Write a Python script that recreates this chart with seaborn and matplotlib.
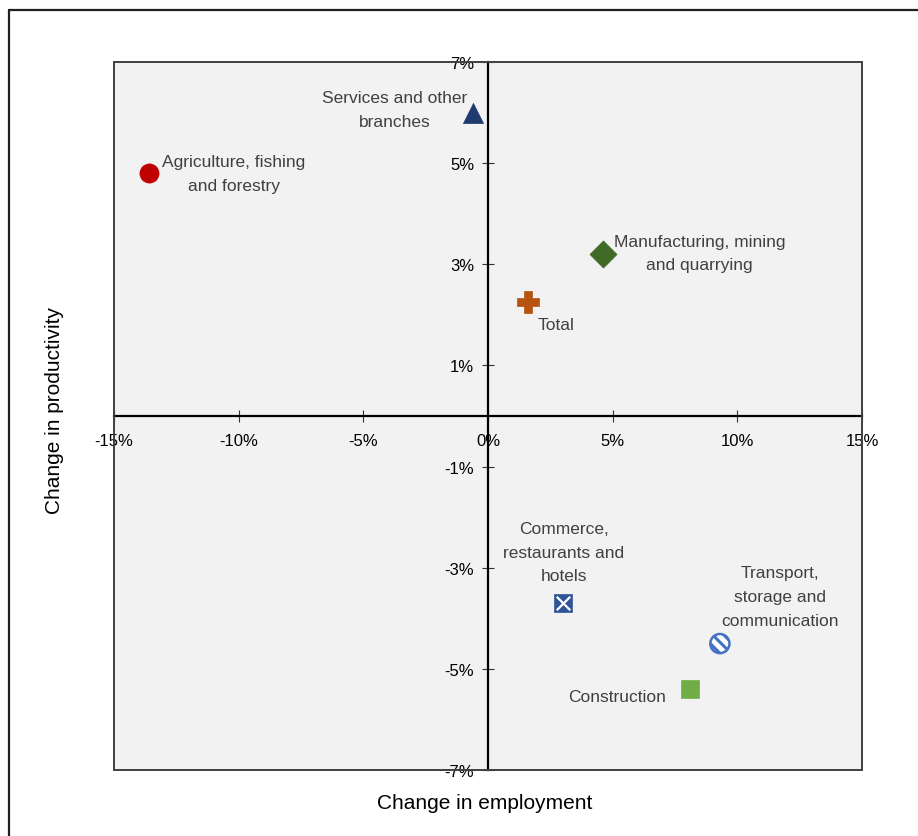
import matplotlib
matplotlib.use("Agg")
import matplotlib.pyplot as plt
import matplotlib.ticker as mticker
from matplotlib.patches import Rectangle
from matplotlib.lines import Line2D
import seaborn as sns
import pandas as pd

# ---- data ----
sectors = ["Agriculture", "Services", "Manufacturing", "Total",
           "Commerce", "Transport", "Construction"]
labels = ["Agriculture, fishing\nand forestry",
          "Services and other\nbranches",
          "Manufacturing, mining\nand quarrying",
          "Total",
          "Commerce,\nrestaurants and\nhotels",
          "Transport,\nstorage and\ncommunication",
          "Construction"]
employment = [-13.6, -0.6, 4.6, 1.6, 3.0, 9.3, 8.1]
productivity = [4.8, 6.0, 3.2, 2.25, -3.7, -4.5, -5.4]
x_ticks = [-15, -10, -5, 0, 5, 10, 15]
y_ticks = [7, 5, 3, 1, -1, -3, -5, -7]

# ---- styles ----
colors = {"Agriculture": "#C00000", "Services": "#1F3A6E", "Manufacturing": "#3F6B27",
          "Total": "#B5530F", "Commerce": "#2F5597", "Transport": "#FFFFFF",
          "Construction": "#70AD47"}
markers = {"Agriculture": "o", "Services": "^", "Manufacturing": "D", "Total": "P",
           "Commerce": "s", "Transport": "o", "Construction": "s"}
sizes = {"Agriculture": 190, "Services": 210, "Manufacturing": 190, "Total": 230,
         "Commerce": 160, "Transport": 190, "Construction": 170}
# label offsets in pixels from the marker (layout only)
offsets = {"Agriculture": (85, 0), "Services": (-78, 3), "Manufacturing": (97, 1),
           "Total": (28, -22), "Commerce": (1, 51), "Transport": (60, 47),
           "Construction": (-73, -7)}

df = pd.DataFrame({"sector": sectors, "label": labels,
                   "employment": employment, "productivity": productivity})

sns.set_theme(style="white")
plt.rcParams["font.family"] = ["Liberation Sans", "DejaVu Sans"]
plt.rcParams["hatch.linewidth"] = 2.2

W, H = 918, 837
fig = plt.figure(figsize=(W / 100, H / 100), dpi=100)
ax = fig.add_axes([114 / W, 1 - 771 / H, (862 - 114) / W, (771 - 63) / H])
ax.set_facecolor("#F2F2F2")

for s in sectors:
    sub = df[df.sector == s]
    if s == "Transport":
        ax.scatter(sub.employment, sub.productivity, s=sizes[s], marker="o",
                   facecolor="white", edgecolor="#4472C4", linewidth=1.8,
                   hatch="\\\\\\", zorder=5)
    else:
        sns.scatterplot(data=sub, x="employment", y="productivity", ax=ax,
                        color=colors[s], marker=markers[s], s=sizes[s],
                        edgecolor=colors[s], linewidth=0.5, zorder=5, legend=False)
    if s == "Commerce":
        ax.scatter(sub.employment, sub.productivity, s=95, marker="x",
                   color="white", linewidth=1.6, zorder=6)

for _, r in df.iterrows():
    dx, dy = offsets[r.sector]
    ax.annotate(r.label, (r.employment, r.productivity), xytext=(dx, dy),
                textcoords="offset pixels", ha="center", va="center",
                fontsize=12.5, color="#404040", linespacing=1.72, zorder=7)

ax.set_xlim(-15, 15)
ax.set_ylim(-7, 7)
ax.set_xticks(x_ticks)
ax.set_yticks(y_ticks)
ax.xaxis.set_major_formatter(mticker.FuncFormatter(lambda v, p: f"{v:.0f}%"))
ax.yaxis.set_major_formatter(mticker.FuncFormatter(lambda v, p: f"{v:.0f}%"))

ax.spines["left"].set_position(("data", 0))
ax.spines["bottom"].set_position(("data", 0))
ax.spines["top"].set_visible(False)
ax.spines["right"].set_visible(False)
for sp in ("left", "bottom"):
    ax.spines[sp].set_color("black")
    ax.spines[sp].set_linewidth(1.6)
    ax.spines[sp].set_zorder(3)

ax.tick_params(axis="x", direction="inout", length=8, width=0.8, color="#333333",
               labelsize=12, labelcolor="black", pad=8, bottom=True)
ax.tick_params(axis="y", direction="inout", length=8, width=0.8, color="#333333",
               labelsize=12, labelcolor="black", pad=6, left=True)
ax.set_xlabel("")
ax.set_ylabel("")

# plot-area border
ax.add_patch(Rectangle((0, 0), 1, 1, transform=ax.transAxes, fill=False,
                       edgecolor="#404040", linewidth=1.4, zorder=4, clip_on=False))

# axis titles
fig.text(485 / W, 1 - 804 / H, "Change in employment", ha="center", va="center",
         fontsize=15, color="black")
fig.text(55 / W, 1 - 410 / H, "Change in productivity", ha="center", va="center",
         rotation=90, fontsize=15, color="black")

# outer frame (left and top visible)
fig.add_artist(Line2D([9 / W, 9 / W], [0, 1 - 11 / H], transform=fig.transFigure,
                      color="#202020", linewidth=1.6))
fig.add_artist(Line2D([9 / W, 1], [1 - 11 / H, 1 - 11 / H], transform=fig.transFigure,
                      color="#202020", linewidth=1.6))

fig.savefig("out.png", dpi=100, facecolor="white")
